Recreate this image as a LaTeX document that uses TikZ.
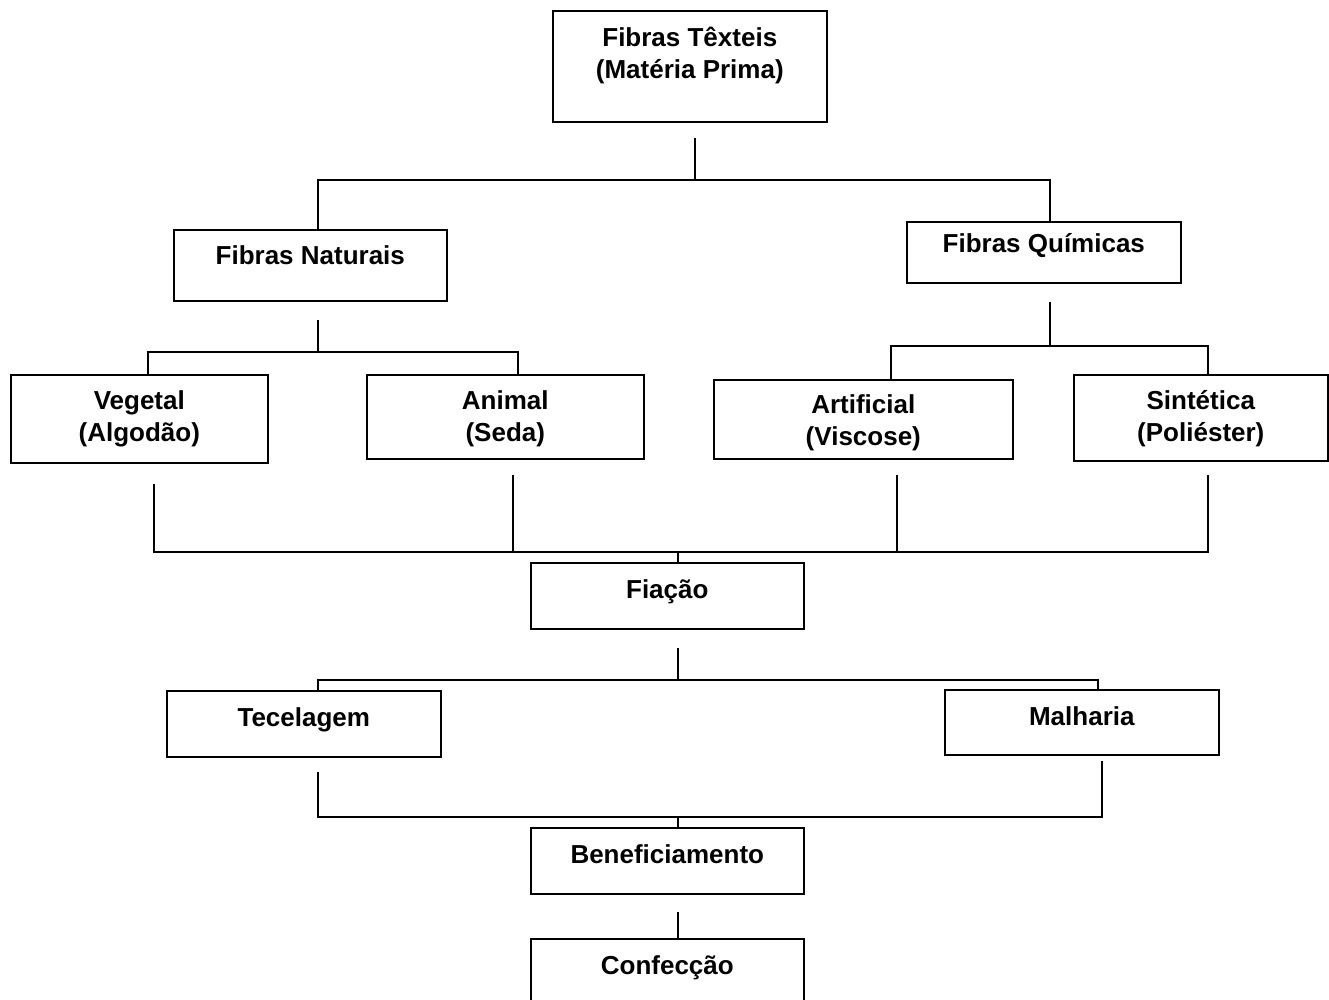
\documentclass[tikz,border=0pt]{standalone}
\usepackage{fontspec}
\setmainfont{Liberation Sans}
\begin{document}
\begin{tikzpicture}[x=1pt,y=-1pt,
  bx/.style={draw, line width=1.6pt, inner sep=0pt, align=center,
    font=\bfseries\fontsize{26}{32}\selectfont},
  ln/.style={line width=1.6pt}]
\useasboundingbox (0,0) rectangle (1329,1000);
% boxes
\node[bx, anchor=north west, minimum width=274, text height=68, text depth=43] (top) at (552,10) {Fibras Têxteis\\(Matéria Prima)};
\node[bx, anchor=north west, minimum width=273, text height=35, text depth=36] (nat) at (173,229) {Fibras Naturais};
\node[bx, anchor=north west, minimum width=274, text height=31, text depth=30] (qui) at (906,221) {Fibras Químicas};
\node[bx, anchor=north west, minimum width=257, text height=67, text depth=21] (veg) at (10,374) {Vegetal\\(Algodão)};
\node[bx, anchor=north west, minimum width=277, text height=67, text depth=17] (ani) at (366,374) {Animal\\(Seda)};
\node[bx, anchor=north west, minimum width=299, text height=66, text depth=13] (art) at (713,379) {Artificial\\(Viscose)};
\node[bx, anchor=north west, minimum width=254, text height=67, text depth=19] (sin) at (1073,374) {Sintética\\(Poliéster)};
\node[bx, anchor=north west, minimum width=273, text height=36, text depth=30] (fia) at (530,562) {Fiação};
\node[bx, anchor=north west, minimum width=274, text height=36, text depth=30] (tec) at (166,690) {Tecelagem};
\node[bx, anchor=north west, minimum width=274, text height=36, text depth=29] (mal) at (944,689) {Malharia};
\node[bx, anchor=north west, minimum width=273, text height=36, text depth=30] (ben) at (530,827) {Beneficiamento};
\node[bx, anchor=north west, minimum width=273, text height=36, text depth=30] (con) at (530,938) {Confecção};
% junction coordinates
\coordinate (t0) at (695,138);
\coordinate (t1) at (695,180);
\coordinate (tl) at (318,180);
\coordinate (tr) at (1050,180);
\coordinate (n0) at (318,320);
\coordinate (n1) at (318,352);
\coordinate (nl) at (148,352);
\coordinate (nr) at (518,352);
\coordinate (q0) at (1050,302);
\coordinate (q1) at (1050,346);
\coordinate (ql) at (891,346);
\coordinate (qr) at (1208,346);
\coordinate (v0) at (154,484);
\coordinate (a0) at (513,475);
\coordinate (r0) at (897,475);
\coordinate (s0) at (1208,475);
\coordinate (f1) at (678,552);
\coordinate (f0) at (678,648);
\coordinate (f2) at (678,680);
\coordinate (fl) at (318,680);
\coordinate (fr) at (1098,680);
\coordinate (c0) at (318,772);
\coordinate (m0) at (1102,761);
\coordinate (b1) at (678,817);
\coordinate (b0) at (678,912);
% connectors
\draw[ln] (t0) -- (t1);
\draw[ln] (tl |- nat.north) -- (tl) -- (tr) -- (tr |- qui.north);
\draw[ln] (n0) -- (n1);
\draw[ln] (nl |- veg.north) -- (nl) -- (nr) -- (nr |- ani.north);
\draw[ln] (q0) -- (q1);
\draw[ln] (ql |- art.north) -- (ql) -- (qr) -- (qr |- sin.north);
\draw[ln] (v0) -- (v0 |- f1) -- (s0 |- f1) -- (s0);
\draw[ln] (a0) -- (a0 |- f1);
\draw[ln] (r0) -- (r0 |- f1);
\draw[ln] (f1) -- (fia.north -| f1);
\draw[ln] (f0) -- (f2);
\draw[ln] (fl |- tec.north) -- (fl) -- (fr) -- (fr |- mal.north);
\draw[ln] (c0) -- (c0 |- b1) -- (m0 |- b1) -- (m0);
\draw[ln] (b1) -- (ben.north -| b1);
\draw[ln] (b0) -- (con.north -| b0);
\end{tikzpicture}
\end{document}
